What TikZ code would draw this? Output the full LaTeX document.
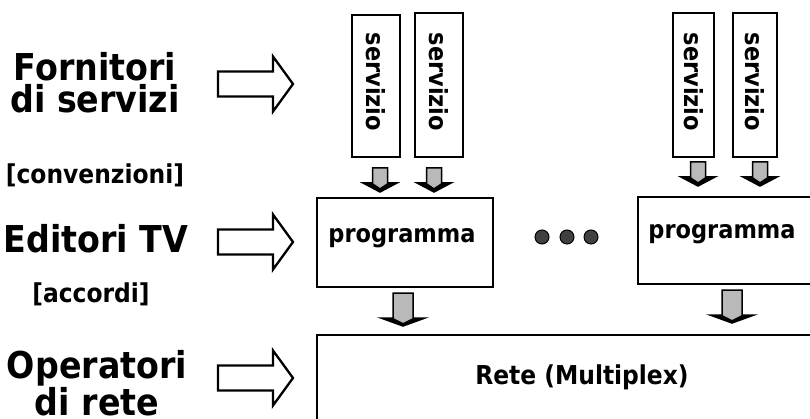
\documentclass[tikz,border=0pt]{standalone}
\usepackage{fontspec}
\setmainfont{DejaVu Sans Condensed}[BoldFont={DejaVu Sans Condensed Bold}]
\begin{document}
\begin{tikzpicture}[x=1pt,y=-1pt,
  lab/.style={font=\fontsize{37}{32}\selectfont\bfseries, anchor=base, inner sep=0pt},
  lab2/.style={font=\fontsize{37}{32}\selectfont\bfseries, align=center, inner sep=0pt},
  sublab/.style={font=\fontsize{26}{28}\selectfont\bfseries, anchor=base, inner sep=0pt},
  boxtxt/.style={font=\fontsize{25}{28}\selectfont\bfseries, inner sep=0pt},
  frame/.style={draw=black, line width=2.6pt, fill=white},
  hollow/.pic={\draw[line width=2.3pt, line join=miter, fill=white]
     (0,-12.5) -- (55,-12.5) -- (55,-27.5) -- (75,0) -- (55,27.5) -- (55,12.5) -- (0,12.5) -- cycle;},
  smalldown/.pic={\draw[line width=1.5pt, fill=gray!55]
     (-7.5,0) -- (7.5,0) -- (7.5,15) -- (17,15) -- (0,24) -- (-17,15) -- (-7.5,15) -- cycle;
     \fill[black] (7.5,15) -- (17,15) -- (0,24) -- (-17,15) -- (-7.5,15) -- (0,20) -- cycle;},
  bigdown/.pic={\draw[line width=1.5pt, fill=gray!55]
     (-10,0) -- (10,0) -- (10,25) -- (22,25) -- (0,33) -- (-22,25) -- (-10,25) -- cycle;
     \fill[black] (10,25) -- (22,25) -- (0,33) -- (-22,25) -- (-10,25) -- (0,30) -- cycle;},
  dot/.style={circle, draw=black, fill=black!75, line width=1pt, minimum size=14pt, inner sep=0pt}
]
\useasboundingbox (0,0) rectangle (810,419);
\clip (0,0) rectangle (810,419);

% left labels
\node[lab2] (forn) at (95,83) {Fornitori\\di servizi};
\node[sublab] (conv) at (95,184) {[convenzioni]};
\node[lab] (edit) at (96,253) {Editori TV};
\node[sublab] (acc) at (91,302) {[accordi]};
\node[lab2] (oper) at (97,383) {Operatori\\di rete};

% hollow arrows
\pic at (218,84) {hollow};
\pic at (218,242) {hollow};
\pic at (218,378) {hollow};

% servizio boxes
\draw[frame] (352,15) rectangle (400,157);
\node[boxtxt, rotate=-90] (s1) at (376,82) {servizio};
\draw[frame] (415,13) rectangle (463,157);
\node[boxtxt, rotate=-90] (s2) at (439,82) {servizio};
\draw[frame] (673,13) rectangle (714,157);
\node[boxtxt, rotate=-90] (s3) at (693.5,82) {servizio};
\draw[frame] (733,13) rectangle (777,157);
\node[boxtxt, rotate=-90] (s4) at (755,82) {servizio};

% small arrows
\pic at (380,168) {smalldown};
\pic at (434,168) {smalldown};
\pic at (698,162) {smalldown};
\pic at (760,162) {smalldown};

% programma boxes
\draw[frame] (317,198) rectangle (493,287);
\node[boxtxt] (p1) at (402,238) {programma};
\draw[frame] (638,197) rectangle (830,284);
\node[boxtxt] (p2) at (722,234) {programma};

% dots
\node[dot] (d1) at (542,237) {};
\node[dot] (d2) at (567,237) {};
\node[dot] (d3) at (591,237) {};

% big arrows
\pic at (403,293) {bigdown};
\pic at (732,290) {bigdown};

% rete
\draw[frame] (317,335) rectangle (830,440);
\node[boxtxt, font=\fontsize{26}{28}\selectfont\bfseries] (rete) at (582,377) {Rete (Multiplex)};
\end{tikzpicture}
\end{document}
